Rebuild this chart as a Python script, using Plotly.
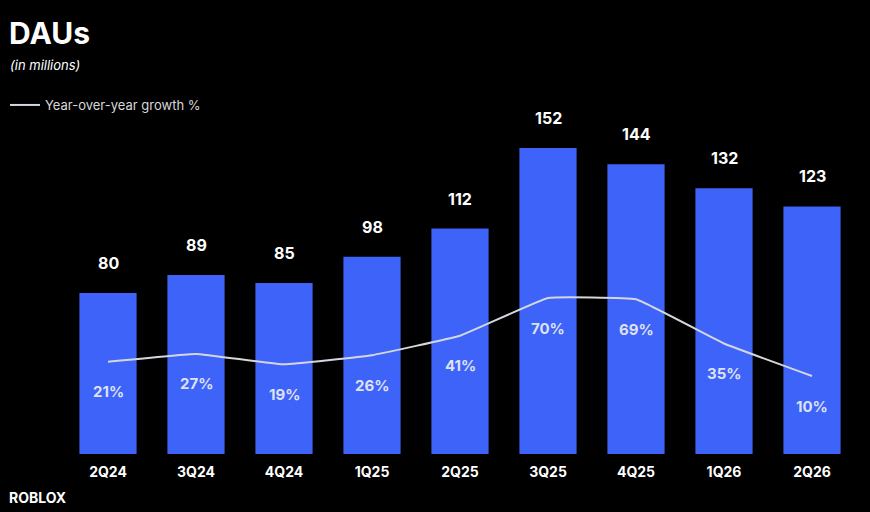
import plotly.graph_objects as go

quarters = ["2Q24", "3Q24", "4Q24", "1Q25", "2Q25", "3Q25", "4Q25", "1Q26", "2Q26"]
daus = [80, 89, 85, 98, 112, 152, 144, 132, 123]
yoy_growth = [21, 27, 19, 26, 41, 70, 69, 35, 10]

BLUE = "#3d63f9"
LINE = "#d4d6e0"
FONT = "Inter"

fig = go.Figure()
fig.add_trace(go.Bar(x=quarters, y=daus, marker=dict(color=BLUE, line=dict(width=0)),
                     width=0.65, showlegend=False, hoverinfo="skip"))
fig.add_trace(go.Scatter(x=quarters, y=yoy_growth, yaxis="y2", mode="lines",
                         line=dict(color=LINE, width=2, shape="spline", smoothing=0.25),
                         name="Year-over-year growth %"))

annotations = []
for q, v in zip(quarters, daus):
    annotations.append(dict(x=q, y=v, xref="x", yref="y", text=f"<b>{v}</b>", showarrow=False,
                            yshift=30, font=dict(family=FONT, size=16, color="white")))
for q, g in zip(quarters, yoy_growth):
    annotations.append(dict(x=q, y=g, xref="x", yref="y2", text=f"<b>{g}%</b>", showarrow=False,
                            yshift=-30, font=dict(family=FONT, size=15, color="#dde1f3")))

# px -> paper helpers (plot area spans x 64..856)
def px_x(px):
    return (px - 64) / 792.0

annotations.append(dict(xref="paper", yref="paper", x=px_x(7), y=1 + (100 - 33) / 354.0,
                        xanchor="left", yanchor="middle", showarrow=False, text="<b>DAUs</b>",
                        font=dict(family=FONT, size=30, color="white")))
annotations.append(dict(xref="paper", yref="paper", x=px_x(8), y=1 + (100 - 65) / 354.0,
                        xanchor="left", yanchor="middle", showarrow=False, text="<i>(in millions)</i>",
                        font=dict(family=FONT, size=13, color="white")))
annotations.append(dict(xref="paper", yref="paper", x=px_x(7), y=-(497 - 454) / 354.0,
                        xanchor="left", yanchor="middle", showarrow=False, text="<b>ROBLOX</b>",
                        font=dict(family=FONT, size=14, color="white")))

fig.update_layout(
    width=870, height=512,
    margin=dict(l=64, r=14, t=100, b=58, autoexpand=False),
    paper_bgcolor="black", plot_bgcolor="black",
    font=dict(family=FONT, color="white"),
    xaxis=dict(range=[-0.5, 8.5], showgrid=False, zeroline=False, showline=False,
               tickfont=dict(family=FONT, size=14, color="white"), ticks="",
               ticklabelstandoff=8),
    yaxis=dict(range=[0, 175.9], visible=False, showgrid=False, zeroline=False),
    yaxis2=dict(range=[-50, 222.3], overlaying="y", visible=False, showgrid=False, zeroline=False),
    legend=dict(xref="container", yref="container", x=5 / 870.0, y=1 - 105 / 512.0,
                xanchor="left", yanchor="middle", bgcolor="rgba(0,0,0,0)",
                itemwidth=30,
                font=dict(family=FONT, size=13, color="#d8d8d8")),
    annotations=annotations,
)
fig.update_xaxes(tickprefix="<b>", ticksuffix="</b>")

fig.write_html("out.html", config={"displayModeBar": False},
               post_script="document.body.style.margin='0';document.body.style.background='black';")
